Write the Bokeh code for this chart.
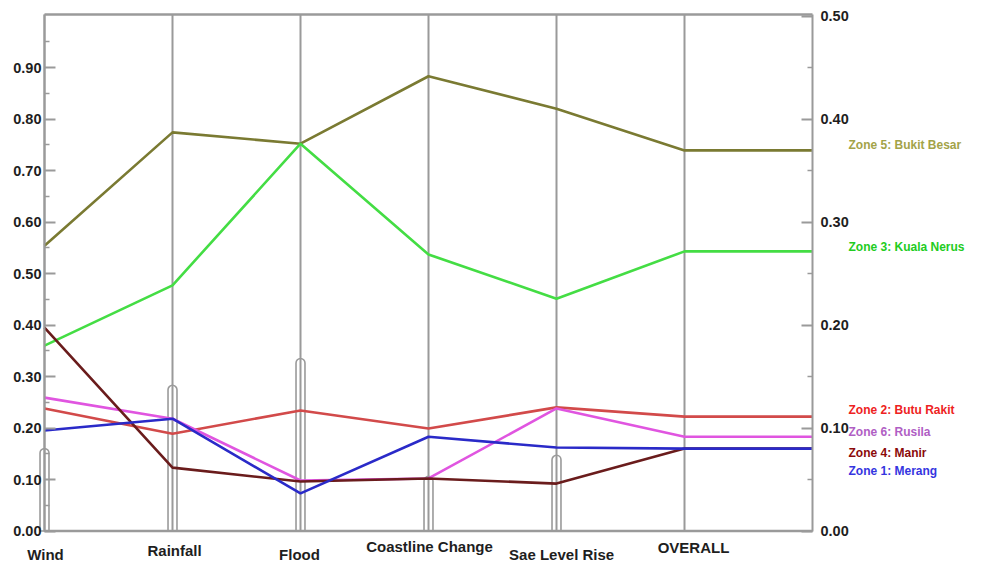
from bokeh.plotting import figure
from bokeh.models import Range1d, LinearAxis, FixedTicker, PrintfTickFormatter, Label
from bokeh.embed import file_html
from bokeh.resources import INLINE

# ---------------- data ----------------
categories = ["Wind", "Rainfall", "Flood", "Coastline Change", "Sae Level Rise", "OVERALL"]
zone_names = ["Zone 5: Bukit Besar", "Zone 3: Kuala Nerus", "Zone 2: Butu Rakit",
              "Zone 6: Rusila", "Zone 4: Manir", "Zone 1: Merang"]
bukit_besar = [0.554, 0.774, 0.752, 0.883, 0.820, 0.739]
kuala_nerus = [0.360, 0.477, 0.752, 0.537, 0.451, 0.543]
butu_rakit = [0.238, 0.189, 0.234, 0.199, 0.240, 0.222]
rusila = [0.259, 0.218, 0.098, 0.102, 0.238, 0.183]
manir = [0.395, 0.123, 0.096, 0.102, 0.092, 0.160]
merang = [0.195, 0.218, 0.073, 0.183, 0.162, 0.160]
bar_values = [0.160, 0.283, 0.335, 0.106, 0.147]
left_ticks = [0.0, 0.1, 0.2, 0.3, 0.4, 0.5, 0.6, 0.7, 0.8, 0.9]
left_minor = [0.05, 0.15, 0.25, 0.35, 0.45, 0.55, 0.65, 0.75, 0.85, 0.95]
right_ticks = [0.0, 0.1, 0.2, 0.3, 0.4, 0.5]
right_minor = [0.05, 0.15, 0.25, 0.35, 0.45]

series = [bukit_besar, kuala_nerus, butu_rakit, rusila, manir, merang]

# ---------------- style ----------------
line_colors = ["#7a7a32", "#44dd44", "#d24a4a", "#e055e0", "#6a1c1c", "#2a2ac8"]
label_colors = ["#a3a348", "#22cc22", "#ee2222", "#b05ec4", "#8b0a0a", "#3535e0"]
zone_label_y = [0.749, 0.552, 0.234, 0.193, 0.152, 0.117]
cat_label_dx = [0.008, 0.016, -0.008, 0.008, 0.04, 0.07]
cat_label_y = [-0.045, -0.037, -0.045, -0.030, -0.046, -0.032]
FONT = "Liberation Sans"
GRAY = "#9a9a9a"
TOP = 1.003

# canvas geometry (pixels inside the figure canvas)
W, H = 973, 563
X0_PX, PX_PER_X = 44, 128.0      # position of first category axis, spacing
Y0_PX, PX_PER_Y = 530.5, 515.0   # canvas y of value 0, pixels per 1.0

n = len(categories)
xs_idx = list(range(n))
x_end = n  # right axis position

x_range = Range1d(-X0_PX / PX_PER_X, (W - X0_PX) / PX_PER_X)
y_range = Range1d(-(H - Y0_PX) / PX_PER_Y, Y0_PX / PX_PER_Y)

p = figure(width=W, height=H, output_backend="svg", toolbar_location=None,
           x_range=x_range, y_range=y_range,
           x_axis_location=None, min_border=0)
p.outline_line_color = None
p.xgrid.visible = False
p.ygrid.visible = False
p.background_fill_color = "white"
p.border_fill_color = "white"

p.extra_y_ranges = {"right": Range1d(y_range.start / 2, y_range.end / 2)}


def style_axis(a, tick_in, standoff):
    a.axis_line_color = GRAY
    a.axis_line_width = 2
    a.major_tick_in = tick_in
    a.major_tick_out = 0
    a.minor_tick_in = 5
    a.minor_tick_out = 0
    a.major_tick_line_color = GRAY
    a.minor_tick_line_color = GRAY
    a.major_tick_line_width = 2
    a.minor_tick_line_width = 1.5
    a.major_label_text_font = FONT
    a.major_label_text_font_style = "bold"
    a.major_label_text_font_size = "14.5px"
    a.major_label_text_color = "#1e1e1e"
    a.major_label_standoff = standoff


# left axis (sits on the Wind axis)
ax = p.yaxis[0]
ax.fixed_location = 0
ax.ticker = FixedTicker(ticks=left_ticks, minor_ticks=left_minor)
ax.formatter = PrintfTickFormatter(format="%.2f")
ax.bounds = (0, TOP)
style_axis(ax, 11, 3)

# right axis
rax = LinearAxis(y_range_name="right",
                 ticker=FixedTicker(ticks=right_ticks, minor_ticks=right_minor),
                 formatter=PrintfTickFormatter(format="%.2f"))
rax.fixed_location = x_end
rax.bounds = (0, TOP / 2)
style_axis(rax, 11, 8)
p.add_layout(rax, "right")

# bars (small rounded boxes on category axes)
p.vbar(x=xs_idx[:len(bar_values)], top=bar_values, bottom=0, width=0.07,
       fill_color="white", line_color=GRAY, line_width=1.6,
       border_radius=(5, 5, 0, 0))

# category axis lines and frame top / bottom
p.segment(x0=xs_idx, y0=[0] * n, x1=xs_idx, y1=[TOP] * n, line_color=GRAY, line_width=2)
p.segment(x0=[0, 0], y0=[0, TOP], x1=[x_end, x_end], y1=[0, TOP], line_color=GRAY, line_width=2.5)

# zone lines (OVERALL held to the right axis)
for vals, col in zip(series, line_colors):
    p.line(x=xs_idx + [x_end], y=vals + [vals[-1]], line_color=col, line_width=2.6)

# zone labels
for name, col, ly in zip(zone_names, label_colors, zone_label_y):
    p.add_layout(Label(x=x_end, y=ly, x_offset=36, text=name, text_color=col,
                       text_font=FONT, text_font_size="12px", text_font_style="bold",
                       text_baseline="middle", text_align="left"))

# category labels
for i, (cat, dx, cy) in enumerate(zip(categories, cat_label_dx, cat_label_y)):
    p.add_layout(Label(x=i + dx, y=cy, text=cat, text_color="#1e1e1e",
                       text_font=FONT, text_font_size="15px", text_font_style="bold",
                       text_baseline="middle", text_align="center"))

open("out.html", "w").write(file_html(p, INLINE))
